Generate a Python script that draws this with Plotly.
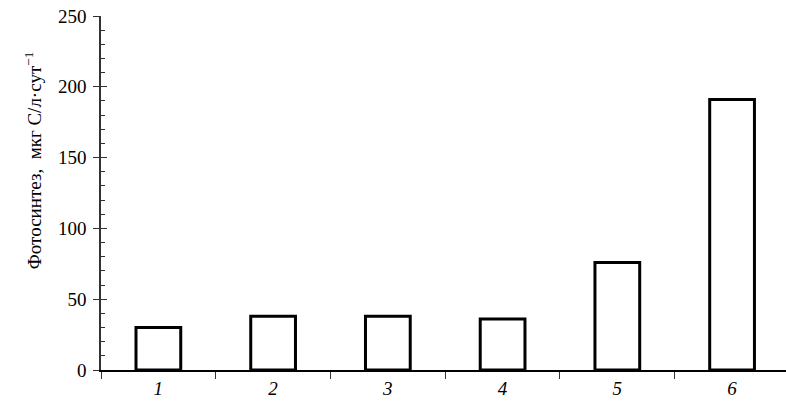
import plotly.graph_objects as go

categories = ["1", "2", "3", "4", "5", "6"]
values = [30, 38, 38, 36, 76, 191]
y_ticks = [0, 50, 100, 150, 200, 250]
y_title = "Фотосинтез,  мкг С/л·сут<sup>−1</sup>"

fig = go.Figure()
fig.add_trace(go.Bar(
    x=categories, y=values, width=0.39,
    marker=dict(color="white", line=dict(color="black", width=3)),
    showlegend=False, hoverinfo="skip", yaxis="y",
))
# invisible trace to activate second overlay axis
fig.add_trace(go.Scatter(x=categories, y=values, mode="markers",
                         marker=dict(opacity=0), showlegend=False,
                         hoverinfo="skip", yaxis="y2"))

serif = "Liberation Serif"
fig.update_layout(
    width=786, height=412,
    margin=dict(l=101, r=0, t=16, b=42),
    paper_bgcolor="white", plot_bgcolor="white",
    font=dict(family=serif, size=19, color="black"),
    xaxis=dict(
        type="category", range=[-0.5, 5.47], automargin=False,
        tickson="boundaries", ticks="outside", ticklen=7, tickwidth=1.2,
        tickcolor="#333", showline=True, linecolor="black", linewidth=1.6,
        showgrid=False, zeroline=False,
        tickfont=dict(family=serif, size=19, style="italic"),
    ),
    yaxis=dict(
        range=[0, 250], tickvals=y_ticks, showticklabels=True, automargin=False,
        ticks="outside", ticklen=6, tickwidth=1.2, tickcolor="#333",
        showline=True, linecolor="#333", linewidth=1.6,
        showgrid=False, zeroline=False, ticklabelstandoff=3,
        tickfont=dict(family=serif, size=19),
    ),
    yaxis2=dict(
        range=[0, 250], overlaying="y", side="left", automargin=False,
        tickvals=y_ticks, showticklabels=False,
        ticks="inside", ticklen=6, tickwidth=1.2, tickcolor="#333",
        minor=dict(dtick=10, ticks="inside", ticklen=4, tickwidth=1, tickcolor="#333"),
        showline=False, showgrid=False, zeroline=False,
    ),
    annotations=[dict(
        text=y_title, textangle=-90, showarrow=False,
        xref="paper", yref="paper", x=0, xshift=-68, y=0.59,
        xanchor="center", yanchor="middle",
        font=dict(family=serif, size=19, color="black"),
    )],
)

fig.write_html("out.html", config={"displayModeBar": False},
               post_script="document.body.style.margin='0';")
